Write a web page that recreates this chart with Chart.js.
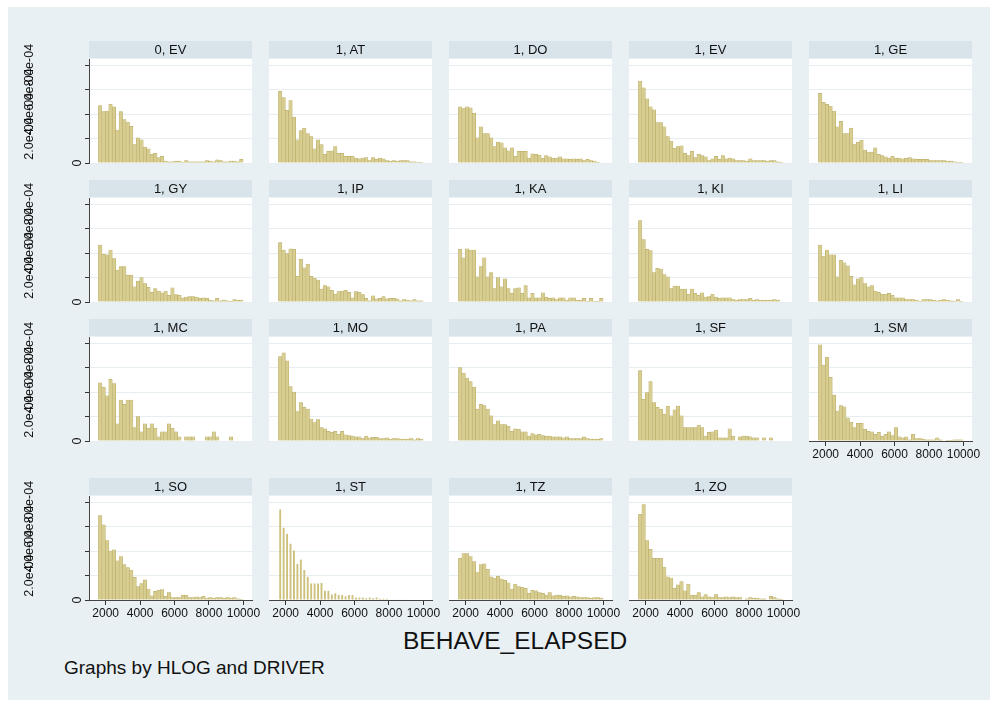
<!DOCTYPE html>
<html>
<head>
<meta charset="utf-8">
<script src="https://cdn.jsdelivr.net/npm/chart.js@4.4.1/dist/chart.umd.min.js"></script>
<style>
  body { margin: 0; background: #ffffff; width: 997px; height: 702px; position: relative; overflow: hidden;
         font-family: "Liberation Sans", Arial, sans-serif; -webkit-font-smoothing: antialiased; }
  #region { position: absolute; left: 8px; top: 7px; width: 982px; height: 693px; background: #e8f0f3; }
  .strip { position: absolute; height: 17px; line-height: 17px; background: #d8e4ea; color: #111;
           font-size: 13px; text-align: center; z-index: 2; will-change: transform; }
  canvas { position: absolute; z-index: 1; }
  #xtitle { position: absolute; left: 403px; top: 627px; font-size: 24.5px; line-height: 28px; color: #111; }
  #note { position: absolute; left: 64px; top: 657px; font-size: 19px; line-height: 22px; color: #111; }
</style>
</head>
<body>
<div id="region"></div>
<div id="xtitle">BEHAVE_ELAPSED</div>
<div id="note">Graphs by HLOG and DRIVER</div>

<script>
// Histogram bins of BEHAVE_ELAPSED (density, in units of 1e-4)
const binStart = 1580;
const binWidth = 200;
const xTickValues = [2000, 4000, 6000, 8000, 10000];
const yTickValues = [0, 2, 4, 6, 8];

const panelLabels = ['0, EV', '1, AT', '1, DO', '1, EV', '1, GE',
                     '1, GY', '1, IP', '1, KA', '1, KI', '1, LI',
                     '1, MC', '1, MO', '1, PA', '1, SF', '1, SM',
                     '1, SO', '1, ST', '1, TZ', '1, ZO'];

const ev0 = [4.7,4.2,4.25,4.8,4.6,2.7,4.2,3.55,3.35,3.0, 1.5,2.05,1.9,1.3,1.15,0.7,0.8,0.45,0.55,0.15,
             0.1,0.1,0.15,0.15,0.05,0.2,0.1,0.1,0.1,0.1, 0.1,0.2,0.15,0.1,0.25,0.2,0.1,0.1,0.15,0.15, 0.1,0.3];
const at  = [5.85,5.35,4.3,5.1,3.75,1.9,2.65,2.85,2.4,2.15, 1.15,1.9,1.5,0.7,0.95,1.0,1.35,0.8,0.8,0.55,
             0.55,0.55,0.4,0.35,0.4,0.45,0.2,0.45,0.3,0.4, 0.35,0.2,0.15,0.2,0.15,0.2,0.2,0.2,0.1,0.1, 0.05,0.05];
const dO  = [4.6,4.45,4.6,4.5,4.05,2.05,2.95,2.4,2.4,2.05, 1.35,1.7,1.65,1.25,1.0,1.25,0.55,0.95,0.95,0.95,
             0.4,0.75,0.7,0.65,0.4,0.6,0.5,0.4,0.4,0.5, 0.35,0.35,0.3,0.35,0.3,0.35,0.2,0.3,0.2,0.15, 0.05,0];
const ev1 = [6.7,6.15,5.25,4.6,4.35,3.3,3.3,2.95,2.15,1.8, 1.2,1.35,1.4,0.8,0.6,0.95,0.45,0.7,0.6,0.5,
             0.2,0.35,0.55,0.3,0.6,0.35,0.4,0.35,0.2,0.2, 0.2,0.15,0.35,0.2,0.2,0.2,0.2,0.15,0.2,0.2, 0.1,0.05];
const ge  = [5.7,4.95,4.8,4.65,4.25,2.95,3.4,2.4,2.4,2.85, 1.55,1.7,1.85,1.05,0.9,0.9,1.25,0.7,0.6,0.5,
             0.4,0.55,0.4,0.4,0.35,0.4,0.45,0.35,0.3,0.3, 0.3,0.3,0.2,0.2,0.2,0.2,0.2,0.15,0.15,0.1, 0.05,0.05];
const gy  = [4.65,3.9,3.85,4.25,3.55,2.6,2.9,2.9,2.2,2.2, 1.25,1.7,2.0,1.5,1.2,0.8,1.1,0.9,0.75,0.9,
             0.55,1.15,0.6,0.55,0.35,0.4,0.45,0.45,0.4,0.3, 0.35,0.3,0.15,0.1,0.3,0.1,0.15,0.1,0.05,0.2, 0.15,0.15];
const ip  = [4.85,4.25,3.95,4.35,4.3,2.1,3.5,2.8,3.1,2.1, 1.95,1.8,1.05,1.35,1.25,0.95,0.65,0.85,0.9,0.95,
             0.8,0.35,0.85,0.8,0.6,0.3,0.1,0.5,0.25,0.3, 0.45,0.25,0.3,0.3,0.25,0.1,0.2,0.15,0.1,0.2, 0.1,0.1];
const ka  = [4.3,3.6,4.35,4.25,4.25,2.05,2.9,3.6,2.05,2.4, 1.1,2.0,1.25,1.9,1.1,0.7,1.1,1.15,0.7,1.35,
             0.35,0.7,0.35,0.35,0.75,0.4,0.3,0.35,0.2,0.35, 0.35,0.15,0.35,0.35,0.15,0.15,0.3,0.05,0.3,0.05, 0.05,0.3];
const ki  = [6.65,5.1,4.3,4.2,2.4,2.75,2.7,2.25,2.05,1.1, 1.3,1.3,1.05,1.05,0.65,1.05,0.7,0.55,0.75,0.4,
             0.45,0.65,0.4,0.3,0.35,0.35,0.35,0.2,0.15,0.2, 0.2,0.2,0.3,0.15,0.2,0.15,0.15,0.15,0.15,0.2, 0.15,0];
const li  = [4.65,3.75,4.25,3.85,3.85,2.05,3.4,3.2,2.95,2.1, 1.4,1.9,2.0,1.5,1.25,1.35,0.9,0.8,0.65,0.65,
             0.7,0.55,0.35,0.35,0.35,0.2,0.2,0.2,0.15,0.05, 0.2,0.2,0.2,0.15,0.1,0.15,0.2,0.15,0.1,0.05, 0.2,0.05];
const mc  = [4.75,4.4,3.7,5.05,4.7,1.4,3.35,3.0,3.35,3.35, 1.1,2.0,0.75,1.4,1.05,1.4,1.05,0.35,0.75,0.75,
             1.4,1.05,0.75,0.35,0,0.35,0.35,0.35,0,0, 0,0.35,0.35,0.75,0.35,0,0,0,0.35,0, 0,0];
const mo  = [6.9,7.2,6.55,4.45,4.0,2.4,3.15,2.75,2.6,1.8, 1.5,1.75,1.1,1.0,0.8,0.7,0.8,0.55,0.8,0.5,
             0.45,0.4,0.35,0.35,0.2,0.4,0.25,0.3,0.3,0.2, 0.2,0.25,0.15,0.2,0.2,0.15,0.15,0.15,0.2,0.1, 0.2,0.15];
const pa  = [6.0,5.55,5.15,4.85,4.4,2.6,3.0,2.9,2.6,2.05, 1.35,1.65,1.35,1.35,1.2,0.8,1.0,0.95,0.75,0.75,
             0.4,0.6,0.5,0.55,0.45,0.4,0.4,0.35,0.35,0.35, 0.25,0.35,0.2,0.2,0.2,0.2,0.35,0.2,0.15,0.15, 0.15,0.2];
const sf  = [5.75,3.4,3.95,4.85,3.15,2.75,2.6,2.2,2.85,2.05, 2.55,2.85,2.05,1.1,1.1,1.1,1.1,1.3,1.1,0.4,
             0.7,0.75,0.9,0.25,0.25,0.25,1.0,0.4,0,0.35, 0.4,0.4,0.35,0.25,0.25,0,0.25,0,0.25,0, 0,0];
const sm  = [7.85,6.2,6.85,5.2,3.75,2.45,2.9,2.8,1.9,1.55, 1.1,1.45,1.45,0.95,0.8,0.75,0.55,0.7,0.4,0.55,
             0.75,0.45,1.1,0.35,0.25,0.35,0.1,0.55,0.2,0.2, 0.15,0.1,0.1,0.1,0.25,0.1,0,0.05,0.05,0.1, 0.1,0.1];
const so  = [6.9,6.15,4.85,4.0,4.1,3.2,3.55,2.9,2.65,2.45, 1.85,1.1,1.35,1.65,0.9,0.35,0.7,0.8,0.85,0.3,
             0.6,0.2,0.2,0.2,0.4,0.4,0.2,0.2,0.25,0.2, 0.3,0.15,0.2,0.15,0.2,0.2,0.15,0.2,0.15,0.2, 0.1,0.05];
const st  = [7.4,5.9,5.4,4.6,4.05,2.95,3.3,2.45,1.9,1.35, 1.35,1.35,1.4,0.75,0.75,0.45,0.55,0.4,0.4,0.3,
             0.4,0.4,0.2,0.2,0.2,0.15,0.2,0.15,0.2,0.1, 0.1,0.1,0.05,0.05,0.05,0.05,0.05,0,0.05,0, 0,0];
const tz  = [3.4,3.8,3.8,3.55,3.15,2.25,2.9,2.95,2.5,1.9, 1.8,1.95,1.7,1.6,1.4,0.9,1.3,1.1,1.05,0.95,
             0.55,0.8,0.75,0.6,0.55,0.4,0.6,0.35,0.4,0.4, 0.3,0.35,0.25,0.3,0.25,0.2,0.2,0.2,0.15,0.2, 0.2,0.15];
const zo  = [7.0,7.8,4.85,4.15,3.4,3.4,3.4,2.7,1.9,1.8, 0.95,1.25,1.5,0.75,1.3,0.4,0.4,0.6,0.25,0.45,
             0.25,0.2,0.45,0.2,0.2,0.25,0.2,0.25,0.2,0.2, 0,0.1,0.2,0.15,0.15,0.1,0.1,0,0.3,0.2, 0.1,0.05];

const panelData = [ev0, at, dO, ev1, ge, gy, ip, ka, ki, li, mc, mo, pa, sf, sm, so, st, tz, zo];

// layout (page pixels)
const colX = [89, 269, 449, 629, 809];
const rowTop = [41, 180, 319, 478];
const plotW = 163;
const yAxisW = 81;
const padRight = 16;
const padBottom = 10;
const font = '"Liberation Sans", Arial, sans-serif';

/**
 * White plot region behind the bars
 */
const plotBackground = {
    id: 'plotBackground',
    beforeDraw(chart) {
        const a = chart.chartArea;
        chart.ctx.save();
        chart.ctx.fillStyle = '#ffffff';
        chart.ctx.fillRect(a.left, a.top, a.right - a.left, a.bottom - a.top);
        chart.ctx.restore();
    }
};

/**
 * Stata-style vertical y tick labels (they overlap in the original)
 */
const rotatedYLabels = {
    id: 'rotatedYLabels',
    afterDraw(chart) {
        const scale = chart.scales.y;
        const ctx = chart.ctx;
        ctx.save();
        ctx.fillStyle = '#111';
        ctx.font = '12.5px ' + font;
        ctx.textAlign = 'center';
        ctx.textBaseline = 'middle';
        yTickValues.forEach(v => {
            const y = scale.getPixelForValue(v);
            const x = v === 0 ? chart.chartArea.left - 11 : chart.chartArea.left - 59;
            ctx.save();
            ctx.translate(x, y);
            ctx.rotate(-Math.PI / 2);
            ctx.fillText(v === 0 ? '0' : v.toFixed(1) + 'e-04', 0, 0);
            ctx.restore();
        });
        ctx.restore();
    }
};

panelLabels.forEach((label, i) => {
    const row = Math.floor(i / 5);
    const col = i % 5;
    const hasX = row === 3 || (row === 2 && col === 4);
    const hasY = col === 0;
    const isST = label === '1, ST';

    const strip = document.createElement('div');
    strip.className = 'strip';
    strip.style.left = colX[col] + 'px';
    strip.style.top = rowTop[row] + 'px';
    strip.style.width = plotW + 'px';
    strip.textContent = label;
    document.body.appendChild(strip);

    const canvas = document.createElement('canvas');
    const left = hasY ? colX[col] - yAxisW : colX[col];
    const width = (hasY ? yAxisW : 0) + plotW + padRight;
    const height = 122 + (hasX ? 30 : padBottom);
    canvas.width = width;
    canvas.height = height;
    canvas.style.left = left + 'px';
    canvas.style.top = rowTop[row] + 'px';
    document.body.appendChild(canvas);

    const heights = panelData[i];
    const points = heights.map((h, k) => ({ x: binStart + binWidth * (k + 0.5), y: h }));

    new Chart(canvas.getContext('2d'), {
        type: 'bar',
        data: {
            datasets: [{
                data: points,
                backgroundColor: isST ? 'rgb(205, 193, 125)' : 'rgb(215, 205, 145)',
                borderColor: 'rgb(182, 168, 98)',
                borderWidth: isST ? 0 : 0.5,
                borderSkipped: 'start',
                barPercentage: isST ? 0.55 : 1,
                categoryPercentage: 1
            }]
        },
        options: {
            responsive: false,
            animation: false,
            events: [],
            layout: { padding: { top: 18, right: padRight, left: 0, bottom: hasX ? 0 : padBottom } },
            plugins: { legend: { display: false }, tooltip: { enabled: false } },
            scales: {
                x: {
                    type: 'linear',
                    min: 1030,
                    max: 10500,
                    offset: false,
                    display: hasX,
                    afterBuildTicks: s => { s.ticks = xTickValues.map(v => ({ value: v })); },
                    afterFit: s => { s.height = hasX ? 30 : 0; },
                    grid: { drawOnChartArea: false, offset: false, tickLength: 5, color: '#333', tickColor: '#333' },
                    border: { display: true, color: '#444', width: 1 },
                    ticks: {
                        color: '#111', font: { size: 12, family: font }, padding: 1, maxRotation: 0, autoSkip: false,
                        callback: v => String(v)
                    }
                },
                y: {
                    min: 0,
                    max: 8.5,
                    afterBuildTicks: s => { s.ticks = yTickValues.map(v => ({ value: v })); },
                    afterFit: s => { s.width = hasY ? yAxisW : 0; },
                    grid: { color: '#e6eef2', lineWidth: 1, drawTicks: hasY, tickLength: 4, tickColor: '#333' },
                    border: { display: hasY, color: '#444', width: 1 },
                    ticks: { display: false }
                }
            }
        },
        plugins: hasY ? [plotBackground, rotatedYLabels] : [plotBackground]
    });
});
</script>
</body>
</html>
